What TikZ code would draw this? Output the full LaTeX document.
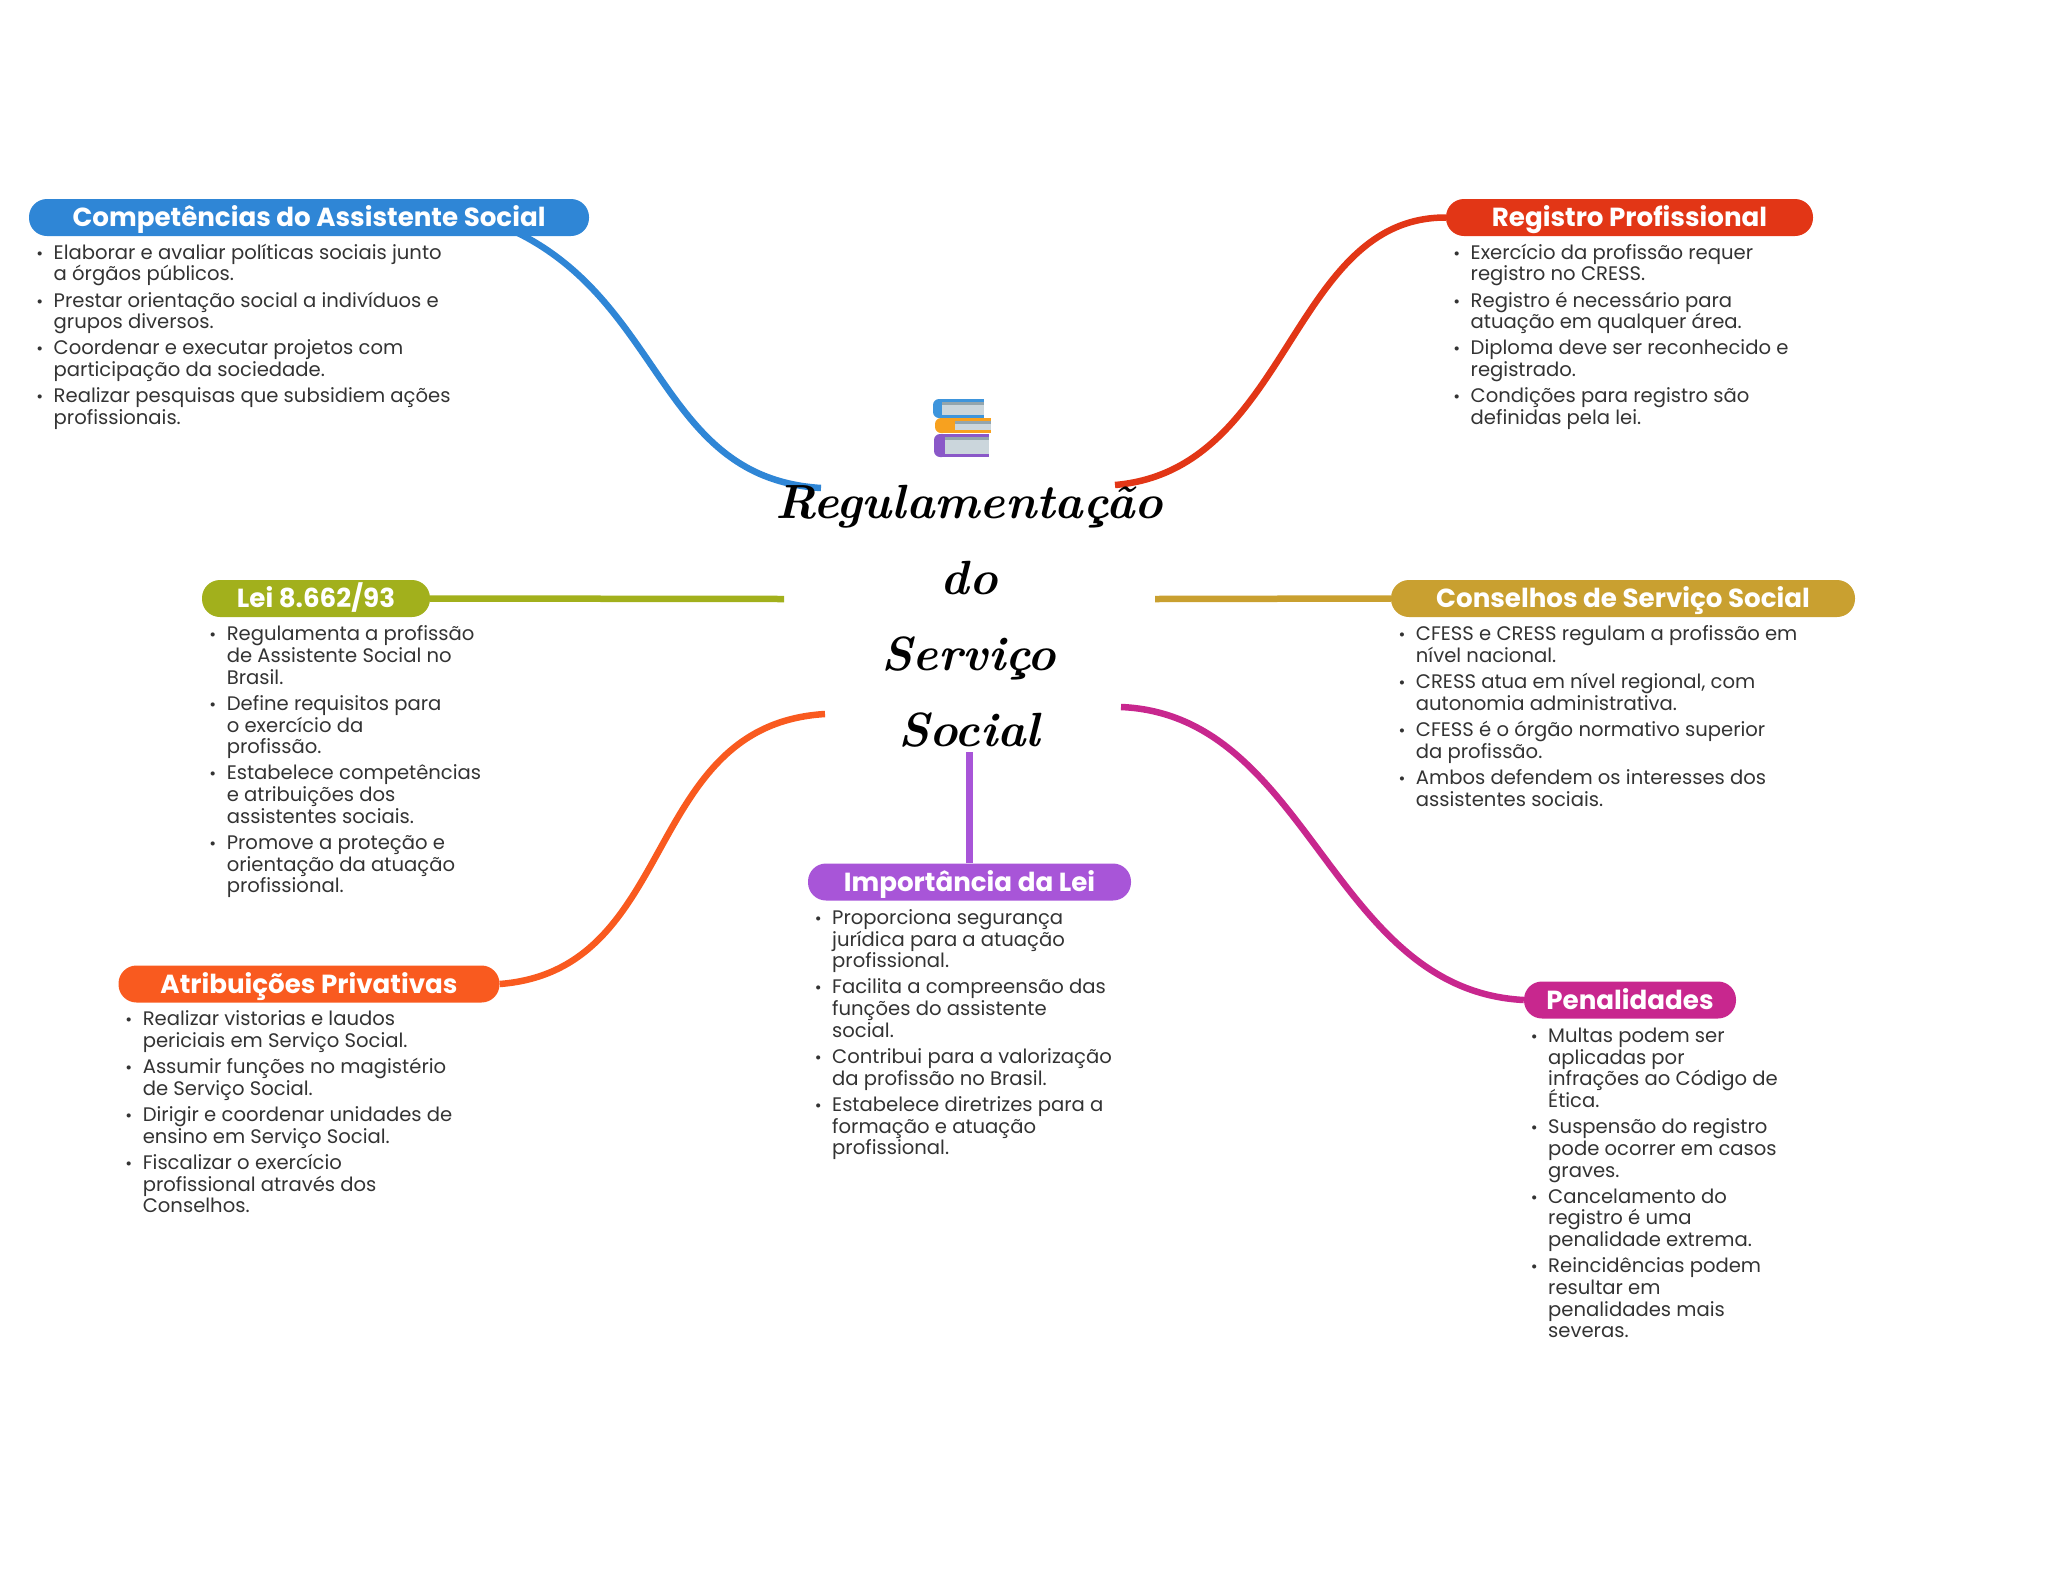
\documentclass[tikz,border=0pt]{standalone}
\usepackage{fontspec}
\usepackage{tikz}
\newfontfamily\popfont{Poppins}
\definecolor{compblue}{HTML}{2F86D6}
\definecolor{regred}{HTML}{E23616}
\definecolor{leiolive}{HTML}{A2B01C}
\definecolor{consgold}{HTML}{C9A030}
\definecolor{atrorange}{HTML}{F95A1F}
\definecolor{imppurple}{HTML}{A855D8}
\definecolor{penmagenta}{HTML}{C8278E}
\definecolor{bodygray}{HTML}{333333}
\definecolor{bookpage}{HTML}{CBD6DC}
\definecolor{bookedge}{HTML}{93A5AD}
\definecolor{bookblue}{HTML}{3E95DC}
\definecolor{bookorange}{HTML}{F7A11F}
\definecolor{bookviolet}{HTML}{8A58C8}
\newcommand{\itm}{\leavevmode\llap{\scalebox{.85}{•}\hspace{10.5pt}}}
\newcommand{\bodyfont}{\popfont\fontsize{19.6}{21.7}\selectfont\lineskiplimit=-10pt\relax}
\tikzset{
  topic/.style={rounded corners=18pt, minimum height=37pt, inner sep=0pt, text height=18.4pt, text depth=0pt, text=white, font=\popfont\bfseries\fontsize{26.15}{30}\selectfont},
  bodytext/.style={anchor=north west, align=left, inner sep=0pt, text=bodygray, font=\bodyfont},
  link/.style={line width=6.5pt},
}
\begin{document}
\begin{tikzpicture}[x=1pt,y=-1pt]
      \useasboundingbox (0,0) rectangle (2048,1569);
      \node[topic, fill=compblue, minimum width=560pt] (comp) at (309,217.5) {Competências do Assistente Social};
      \node[topic, fill=regred, minimum width=367pt] (reg) at (1629.5,217.5) {Registro Profissional};
      \node[topic, fill=leiolive, minimum width=228pt] (lei) at (316,598.5) {Lei 8.662/93};
      \node[topic, fill=consgold, minimum width=464pt] (cons) at (1623,598.5) {Conselhos de Serviço Social};
      \node[topic, fill=atrorange, minimum width=381pt] (atr) at (309,984) {Atribuições Privativas};
      \node[topic, fill=imppurple, minimum width=323pt] (imp) at (969.5,882) {Importância da Lei};
      \node[topic, fill=penmagenta, minimum width=212pt] (pen) at (1630,1000) {Penalidades};
      % bodies
      \node[bodytext] (compbody) at (53.5,243.6) {\itm Elaborar e avaliar políticas sociais junto\\a órgãos públicos.\\[4.5pt]
        \itm Prestar orientação social a indivíduos e\\grupos diversos.\\[4.5pt]
        \itm Coordenar e executar projetos com\\participação da sociedade.\\[4.5pt]
        \itm Realizar pesquisas que subsidiem ações\\profissionais.};
      \node[bodytext] (regbody) at (1470.5,243.6) {\itm Exercício da profissão requer\\registro no CRESS.\\[4.5pt]
        \itm Registro é necessário para\\atuação em qualquer área.\\[4.5pt]
        \itm Diploma deve ser reconhecido e\\registrado.\\[4.5pt]
        \itm Condições para registro são\\definidas pela lei.};
      \node[bodytext] (leibody) at (226.6,625.6) {\itm Regulamenta a profissão\\de Assistente Social no\\Brasil.\\[4.5pt]
        \itm Define requisitos para\\o exercício da\\profissão.\\[4.5pt]
        \itm Estabelece competências\\e atribuições dos\\assistentes sociais.\\[4.5pt]
        \itm Promove a proteção e\\orientação da atuação\\profissional.};
      \node[bodytext] (consbody) at (1415.7,625.6) {\itm CFESS e CRESS regulam a profissão em\\nível nacional.\\[4.5pt]
        \itm CRESS atua em nível regional, com\\autonomia administrativa.\\[4.5pt]
        \itm CFESS é o órgão normativo superior\\da profissão.\\[4.5pt]
        \itm Ambos defendem os interesses dos\\assistentes sociais.};
      \node[bodytext] (atrbody) at (142.6,1010.6) {\itm Realizar vistorias e laudos\\periciais em Serviço Social.\\[4.5pt]
        \itm Assumir funções no magistério\\de Serviço Social.\\[4.5pt]
        \itm Dirigir e coordenar unidades de\\ensino em Serviço Social.\\[4.5pt]
        \itm Fiscalizar o exercício\\profissional através dos\\Conselhos.};
      \node[bodytext] (impbody) at (832,909.2) {\itm Proporciona segurança\\jurídica para a atuação\\profissional.\\[4.5pt]
        \itm Facilita a compreensão das\\funções do assistente\\social.\\[4.5pt]
        \itm Contribui para a valorização\\da profissão no Brasil.\\[4.5pt]
        \itm Estabelece diretrizes para a\\formação e atuação\\profissional.};
      \node[bodytext] (penbody) at (1548,1027.6) {\itm Multas podem ser\\aplicadas por\\infrações ao Código de\\Ética.\\[4.5pt]
        \itm Suspensão do registro\\pode ocorrer em casos\\graves.\\[4.5pt]
        \itm Cancelamento do\\registro é uma\\penalidade extrema.\\[4.5pt]
        \itm Reincidências podem\\resultar em\\penalidades mais\\severas.};
      % connectors
      \coordinate (compout) at (516,232);
      \coordinate (titlecomp) at (821,488);
      \coordinate (titlereg) at (1115,485);
      \coordinate (titlelei) at (784,599);
      \coordinate (titlecons) at (1155,599);
      \coordinate (titleatr) at (825,714);
      \coordinate (titlepen) at (1121,707);
      \coordinate (titleimp) at (969.5,752);
      \draw[link, compblue] (compout) .. controls (665,305) and (660,478) .. (titlecomp);
      \draw[link, regred] (reg.west) .. controls (1290,217) and (1290,470) .. (titlereg);
      \draw[link, leiolive] (lei.east) -- (titlelei);
      \draw[link, consgold] (cons.west) -- (titlecons);
      \draw[link, atrorange] (atr.east) .. controls (680,970) and (640,725) .. (titleatr);
      \draw[link, penmagenta] (pen.west) .. controls (1330,990) and (1310,715) .. (titlepen);
      \draw[link, imppurple] (imp.north) -- (titleimp);
      % books
      \foreach \bl/\bt/\br/\bb/\bp/\col in {933/399/984/418/942/bookblue, 935/418/991/433/955/bookorange, 934/434/989/457/945/bookviolet}{
        \fill[\col, rounded corners=6pt] (\bl,\bt) rectangle (\bl+14,\bb);
        \fill[\col] (\bl+7,\bt) rectangle (\br,\bb);
        \fill[bookpage] (\bp,\bt+3) rectangle (\br,\bb-3);
        \fill[bookedge] (\bp,\bt+3) rectangle (\br,\bt+6);
      }
      \node[align=center, inner sep=0pt, font=\bfseries\itshape\fontsize{48}{76}\selectfont] (title) at (969,616) {Regulamentação\\do\\Serviço\\Social};
\end{tikzpicture}
\end{document}
